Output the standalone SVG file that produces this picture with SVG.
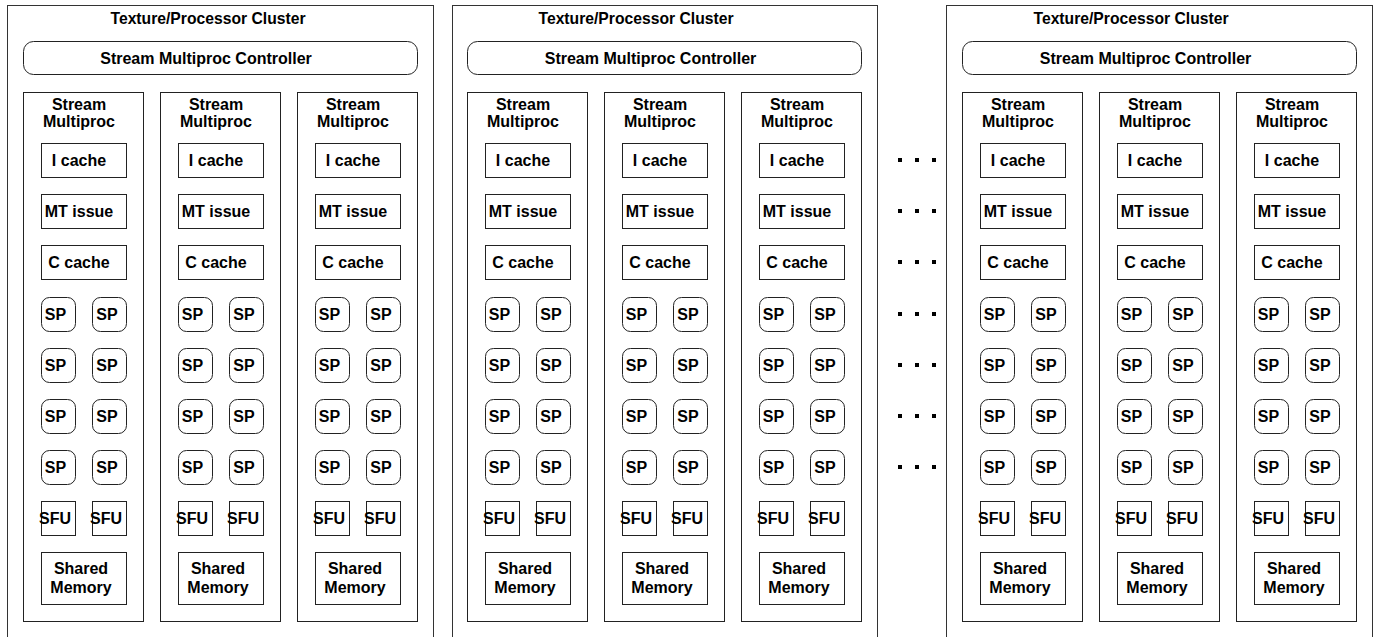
<svg xmlns="http://www.w3.org/2000/svg" width="1379" height="637" viewBox="0 0 1379 637">
<style>
.frame{fill:#fff;stroke:#333;stroke-width:1}
.b{fill:#fff;stroke:#222;stroke-width:1}
.dot{fill:#000}
text{font-family:"Liberation Sans",Arial,Helvetica,sans-serif;font-weight:bold;font-size:16px;fill:#000;text-anchor:middle}
.title{font-size:15.7px}
</style>
<defs>
<g id="smtpl">
<rect class="b" x="0.5" y="92.5" width="120" height="529"/>
<text x="56" y="110">Stream</text>
<text x="56" y="126.5">Multiproc</text>
<rect class="b" x="18.5" y="143.5" width="85" height="34"/>
<text x="56" y="166">I cache</text>
<rect class="b" x="18.5" y="194.5" width="85" height="34"/>
<text x="56" y="217">MT issue</text>
<rect class="b" x="18.5" y="245.5" width="85" height="34"/>
<text x="56" y="268">C cache</text>
<rect class="b" x="18.5" y="297.5" width="34" height="34" rx="8"/>
<rect class="b" x="69.5" y="297.5" width="34" height="34" rx="8"/>
<text x="32.5" y="320">SP</text><text x="84" y="320">SP</text>
<rect class="b" x="18.5" y="348.5" width="34" height="34" rx="8"/>
<rect class="b" x="69.5" y="348.5" width="34" height="34" rx="8"/>
<text x="32.5" y="371">SP</text><text x="84" y="371">SP</text>
<rect class="b" x="18.5" y="399.5" width="34" height="34" rx="8"/>
<rect class="b" x="69.5" y="399.5" width="34" height="34" rx="8"/>
<text x="32.5" y="422">SP</text><text x="84" y="422">SP</text>
<rect class="b" x="18.5" y="450.5" width="34" height="34" rx="8"/>
<rect class="b" x="69.5" y="450.5" width="34" height="34" rx="8"/>
<text x="32.5" y="473">SP</text><text x="84" y="473">SP</text>
<rect class="b" x="18.5" y="501.5" width="34" height="34"/>
<rect class="b" x="69.5" y="501.5" width="34" height="34"/>
<text x="32" y="524">SFU</text><text x="83" y="524">SFU</text>
<rect class="b" x="18.5" y="552.5" width="85" height="52"/>
<text x="58" y="574">Shared</text>
<text x="58" y="593">Memory</text>
</g>
</defs>
<rect width="1379" height="637" fill="#fff"/>

<g id="tpc1">
<rect class="frame" x="7.5" y="5.5" width="426" height="700"/>
<text class="title" x="208" y="24">Texture/Processor Cluster</text>
<g id="tpc1-controller">
<rect class="b" x="23.5" y="41.5" width="394" height="33" rx="10"/>
<text x="206" y="63.5">Stream Multiproc Controller</text>
</g>
<g id="tpc1-sm1"><use href="#smtpl" transform="translate(23,0)"/></g>
<g id="tpc1-sm2"><use href="#smtpl" transform="translate(160,0)"/></g>
<g id="tpc1-sm3"><use href="#smtpl" transform="translate(297,0)"/></g>
</g>

<g id="tpc2">
<rect class="frame" x="452.5" y="5.5" width="425" height="700"/>
<text class="title" x="636" y="24">Texture/Processor Cluster</text>
<g id="tpc2-controller">
<rect class="b" x="467.5" y="41.5" width="394" height="33" rx="10"/>
<text x="650.5" y="63.5">Stream Multiproc Controller</text>
</g>
<g id="tpc2-sm1"><use href="#smtpl" transform="translate(467,0)"/></g>
<g id="tpc2-sm2"><use href="#smtpl" transform="translate(604,0)"/></g>
<g id="tpc2-sm3"><use href="#smtpl" transform="translate(741,0)"/></g>
</g>

<g id="tpc3">
<rect class="frame" x="946.5" y="5.5" width="426" height="700"/>
<text class="title" x="1131" y="24">Texture/Processor Cluster</text>
<g id="tpc3-controller">
<rect class="b" x="962.5" y="41.5" width="394" height="33" rx="10"/>
<text x="1145.5" y="63.5">Stream Multiproc Controller</text>
</g>
<g id="tpc3-sm1"><use href="#smtpl" transform="translate(962,0)"/></g>
<g id="tpc3-sm2"><use href="#smtpl" transform="translate(1099,0)"/></g>
<g id="tpc3-sm3"><use href="#smtpl" transform="translate(1236,0)"/></g>
</g>

<g id="ellipsis">
<rect class="dot" x="898" y="158" width="4" height="4"/><rect class="dot" x="915" y="158" width="4" height="4"/><rect class="dot" x="932" y="158" width="4" height="4"/>
<rect class="dot" x="898" y="209" width="4" height="4"/><rect class="dot" x="915" y="209" width="4" height="4"/><rect class="dot" x="932" y="209" width="4" height="4"/>
<rect class="dot" x="898" y="260" width="4" height="4"/><rect class="dot" x="915" y="260" width="4" height="4"/><rect class="dot" x="932" y="260" width="4" height="4"/>
<rect class="dot" x="898" y="312" width="4" height="4"/><rect class="dot" x="915" y="312" width="4" height="4"/><rect class="dot" x="932" y="312" width="4" height="4"/>
<rect class="dot" x="898" y="363" width="4" height="4"/><rect class="dot" x="915" y="363" width="4" height="4"/><rect class="dot" x="932" y="363" width="4" height="4"/>
<rect class="dot" x="898" y="414" width="4" height="4"/><rect class="dot" x="915" y="414" width="4" height="4"/><rect class="dot" x="932" y="414" width="4" height="4"/>
<rect class="dot" x="898" y="465" width="4" height="4"/><rect class="dot" x="915" y="465" width="4" height="4"/><rect class="dot" x="932" y="465" width="4" height="4"/>
</g>
<g id="connectors"/>
</svg>
